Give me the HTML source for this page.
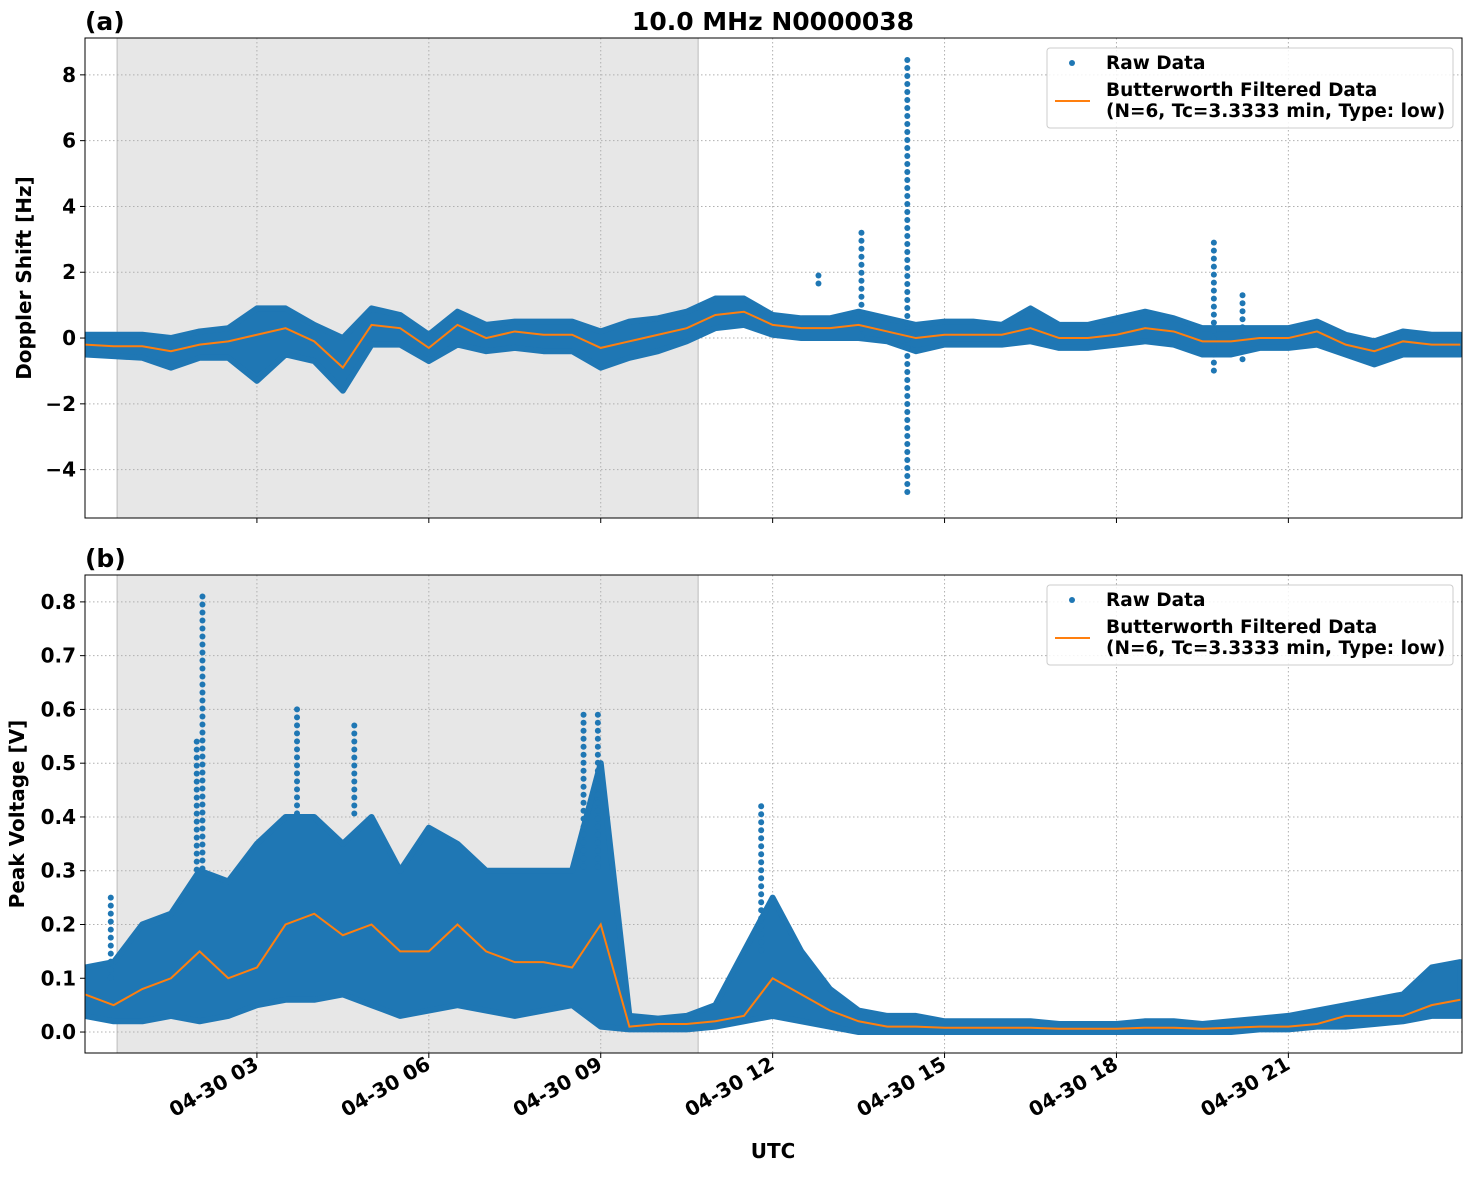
<!DOCTYPE html>
<html><head><meta charset="utf-8"><style>
body{margin:0;background:#fff;}
svg text{font-family:"DejaVu Sans","Liberation Sans",sans-serif;font-weight:bold;}
</style></head><body>
<svg id="fig" width="1472" height="1172" xmlns="http://www.w3.org/2000/svg"></svg>
<script>
// ---- data (hours UTC on 2024-04-30) ----
const times = [0,0.5,1,1.5,2,2.5,3,3.5,4,4.5,5,5.5,6,6.5,7,7.5,8,8.5,9,9.5,10,10.5,11,11.5,12,12.5,13,13.5,14,14.5,15,15.5,16,16.5,17,17.5,18,18.5,19,19.5,20,20.5,21,21.5,22,22.5,23,23.5,24];
const dopFilt = [-0.2,-0.25,-0.25,-0.4,-0.2,-0.1,0.1,0.3,-0.1,-0.9,0.4,0.3,-0.3,0.4,0.0,0.2,0.1,0.1,-0.3,-0.1,0.1,0.3,0.7,0.8,0.4,0.3,0.3,0.4,0.2,0.0,0.1,0.1,0.1,0.3,0.0,0.0,0.1,0.3,0.2,-0.1,-0.1,0.0,0.0,0.2,-0.2,-0.4,-0.1,-0.2,-0.2];
const dopHi = [0.1,0.1,0.1,0.0,0.2,0.3,0.9,0.9,0.4,0.0,0.9,0.7,0.1,0.8,0.4,0.5,0.5,0.5,0.2,0.5,0.6,0.8,1.2,1.2,0.7,0.6,0.6,0.8,0.6,0.4,0.5,0.5,0.4,0.9,0.4,0.4,0.6,0.8,0.6,0.3,0.3,0.3,0.3,0.5,0.1,-0.1,0.2,0.1,0.1];
const dopLo = [-0.5,-0.55,-0.6,-0.9,-0.6,-0.6,-1.3,-0.5,-0.7,-1.6,-0.2,-0.2,-0.7,-0.2,-0.4,-0.3,-0.4,-0.4,-0.9,-0.6,-0.4,-0.1,0.3,0.4,0.1,0.0,0.0,0.0,-0.1,-0.4,-0.2,-0.2,-0.2,-0.1,-0.3,-0.3,-0.2,-0.1,-0.2,-0.5,-0.5,-0.3,-0.3,-0.2,-0.5,-0.8,-0.5,-0.5,-0.5];
const dopSpikeT = [12.8,13.55,14.35,19.7,20.2];
const dopSpikeHi = [1.9,3.2,8.45,2.9,1.3];
const dopSpikeLo = [1.6,-0.2,-4.8,-1.2,-0.7];
const volFilt = [0.07,0.05,0.08,0.1,0.15,0.1,0.12,0.2,0.22,0.18,0.2,0.15,0.15,0.2,0.15,0.13,0.13,0.12,0.2,0.01,0.015,0.015,0.02,0.03,0.1,0.07,0.04,0.02,0.01,0.01,0.008,0.008,0.008,0.008,0.006,0.006,0.006,0.008,0.008,0.006,0.008,0.01,0.01,0.015,0.03,0.03,0.03,0.05,0.06];
const volHi = [0.12,0.13,0.2,0.22,0.3,0.28,0.35,0.4,0.4,0.35,0.4,0.3,0.38,0.35,0.3,0.3,0.3,0.3,0.5,0.03,0.025,0.03,0.05,0.15,0.25,0.15,0.08,0.04,0.03,0.03,0.02,0.02,0.02,0.02,0.015,0.015,0.015,0.02,0.02,0.015,0.02,0.025,0.03,0.04,0.05,0.06,0.07,0.12,0.13];
const volLo = [0.03,0.02,0.02,0.03,0.02,0.03,0.05,0.06,0.06,0.07,0.05,0.03,0.04,0.05,0.04,0.03,0.04,0.05,0.01,0.005,0.005,0.005,0.01,0.02,0.03,0.02,0.01,0.0,0.0,0.0,0.0,0.0,0.0,0.0,0.0,0.0,0.0,0.0,0.0,0.0,0.0,0.005,0.005,0.01,0.01,0.015,0.02,0.03,0.03];
const volSpikeT = [0.45,1.95,2.05,3.7,4.7,8.7,8.95,11.8];
const volSpikeHi = [0.25,0.54,0.81,0.6,0.57,0.59,0.59,0.42];
const volSpikeLo = [0.1,0.3,0.3,0.4,0.4,0.3,0.3,0.15];
const xTickHours = [3,6,9,12,15,18,21];
const xTickLabels = ["04-30 03","04-30 06","04-30 09","04-30 12","04-30 15","04-30 18","04-30 21"];
const dopTicks = [-4,-2,0,2,4,6,8];
const volTicks = [0.0,0.1,0.2,0.3,0.4,0.5,0.6,0.7,0.8];
const nightStart = 0.56, nightEnd = 10.7;

const NS="http://www.w3.org/2000/svg";
const svg=document.getElementById('fig');
function mk(tag,attrs,parent){const e=document.createElementNS(NS,tag);for(const k in attrs)e.setAttribute(k,attrs[k]);(parent||svg).appendChild(e);return e;}
const X0=85,X1=1462;
const xs=h=>X0+(h-0)*(X1-X0)/24.03;
const BLUE="#1f77b4",ORANGE="#ff7f0e";

function panel(cfg){
  const {top,bot,ymin,ymax,ticks,fmt,filt,hi,lo,spT,spHi,spLo,label,ylab,name}=cfg;
  const ys=v=>bot-(v-ymin)*(bot-top)/(ymax-ymin);
  const g=mk('g',{});
  
  
  const clip=mk('clipPath',{id:'c'+name},g);mk('rect',{x:X0,y:top,width:X1-X0,height:bot-top},clip);
  const sh=mk('rect',{x:xs(nightStart),y:top,width:xs(nightEnd)-xs(nightStart),height:bot-top,fill:'#e7e7e7',stroke:'#bbb','stroke-width':1},g);
  
  xTickHours.forEach(h=>{const l=mk('line',{x1:xs(h),x2:xs(h),y1:top,y2:bot,stroke:'#b0b0b0','stroke-dasharray':'1.5,2.5'},g);
    
    mk('line',{x1:xs(h),x2:xs(h),y1:bot,y2:bot+5,stroke:'#000'},g);});
  ticks.forEach(v=>{const y=ys(v);const l=mk('line',{x1:X0,x2:X1,y1:y,y2:y,stroke:'#b0b0b0','stroke-dasharray':'1.5,2.5'},g);
    
    mk('line',{x1:X0-5,x2:X0,y1:y,y2:y,stroke:'#000'},g);
    const t=mk('text',{x:X0-9,y:y+7,'text-anchor':'end','font-size':20},g);t.textContent=fmt(v);
    });
  const dg=mk('g',{'clip-path':`url(#c${name})`},g);
  let pts=times.map((h,i)=>xs(h)+','+ys(hi[i]));
  for(let i=times.length-1;i>=0;i--)pts.push(xs(times[i])+','+ys(lo[i]));
  const env=mk('polygon',{points:pts.join(' '),fill:BLUE,stroke:BLUE,'stroke-width':6,'stroke-linejoin':'round'},dg);
  
  spT.forEach((t,i)=>{const y1=ys(spHi[i]),y2=ys(spLo[i]);
    for(let y=y1;y<=y2;y+=8){const c=mk('circle',{cx:xs(t),cy:y,r:3,fill:BLUE},dg);
      }});
  const fl=mk('polyline',{points:times.map((h,i)=>xs(h)+','+ys(filt[i])).join(' '),fill:'none',stroke:ORANGE,'stroke-width':2},dg);
  
  mk('rect',{x:X0,y:top,width:X1-X0,height:bot-top,fill:'none',stroke:'#000','stroke-width':1},g);
  const pl=mk('text',{x:85,y:top-8,'font-size':25},g);pl.textContent=label;
  
  const yl=mk('text',{x:0,y:0,'font-size':20,'text-anchor':'middle',transform:`translate(${cfg.ylx},${(top+bot)/2}) rotate(-90)`},g);yl.textContent=ylab;
  
  // legend
  const lg=mk('g',{},g);
  const ly=top+10;
  mk('rect',{x:1047,y:ly,width:406,height:80,rx:3,fill:'#fff','fill-opacity':0.85,stroke:'#ccc'},lg);
  mk('circle',{cx:1072,cy:ly+15,r:3,fill:BLUE},lg);
  let t=mk('text',{x:1106,y:ly+21,'font-size':18.5},lg);t.textContent='Raw Data';
  mk('line',{x1:1055,x2:1090,y1:ly+53,y2:ly+53,stroke:ORANGE,'stroke-width':2},lg);
  t=mk('text',{x:1106,y:ly+48,'font-size':18.5},lg);t.textContent='Butterworth Filtered Data';
  t=mk('text',{x:1106,y:ly+69,'font-size':18.5},lg);t.textContent='(N=6, Tc=3.3333 min, Type: low)';
}
panel({name:'doppler-panel',top:38,bot:518,ymin:-5.47,ymax:9.12,ticks:dopTicks,fmt:v=>v<0?'\u2212'+(-v):String(v),filt:dopFilt,hi:dopHi,lo:dopLo,spT:dopSpikeT,spHi:dopSpikeHi,spLo:dopSpikeLo,label:'(a)',ylab:'Doppler Shift [Hz]',ylx:31});
panel({name:'voltage-panel',top:575,bot:1053,ymin:-0.039,ymax:0.85,ticks:volTicks,fmt:v=>v.toFixed(1),filt:volFilt,hi:volHi,lo:volLo,spT:volSpikeT,spHi:volSpikeHi,spLo:volSpikeLo,label:'(b)',ylab:'Peak Voltage [V]',ylx:24});
xTickHours.forEach((h,i)=>{const t=mk('text',{x:0,y:0,'font-size':20,'text-anchor':'end',transform:`translate(${xs(h)+3},${1068}) rotate(-30)`});
  t.textContent=xTickLabels[i];
  
  });
let tt=mk('text',{x:773,y:30,'font-size':25,'text-anchor':'middle'});tt.textContent='10.0 MHz N0000038';

tt=mk('text',{x:773,y:1158,'font-size':20,'text-anchor':'middle'});tt.textContent='UTC';

</script>
</body></html>
